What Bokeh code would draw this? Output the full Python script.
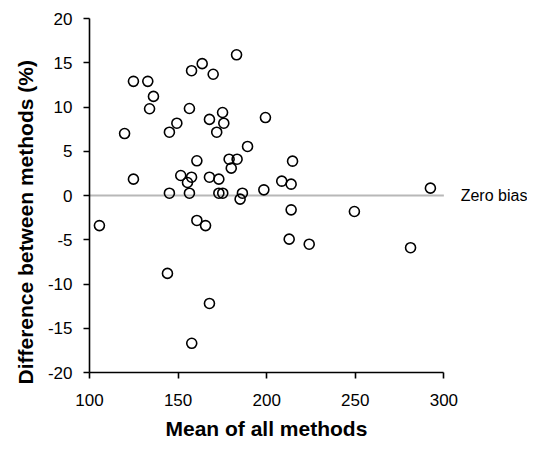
from bokeh.plotting import figure
from bokeh.models import Range1d, FixedTicker, Label, ColumnDataSource, Title
from bokeh.embed import file_html
from bokeh.resources import INLINE

# Data
mean_all = [105.6, 119.8, 124.8, 124.8, 132.9, 133.9, 136.1, 145.1, 145.1, 144.0,
            149.3, 151.5, 155.3, 157.6, 156.4, 156.4, 157.6, 157.7, 160.6, 160.6,
            163.6, 165.5, 167.7, 167.7, 167.7, 169.8, 171.8, 173.0, 173.0, 175.2,
            175.1, 175.8, 178.8, 180.0, 183.3, 183.0, 185.0, 186.3, 189.2, 199.3,
            198.4, 208.5, 212.7, 213.8, 214.6, 213.8, 224.0, 249.5, 281.2, 292.4]
diff_pct = [-3.4, 7.0, 12.9, 1.85, 12.9, 9.8, 11.2, 0.26, 7.15, -8.8,
            8.17, 2.26, 1.47, 2.07, 0.26, 9.83, 14.1, -16.7, 3.92, -2.82,
            14.9, -3.4, 2.07, 8.6, -12.2, 13.7, 7.15, 1.85, 0.26, 0.26,
            9.38, 8.17, 4.1, 3.09, 4.1, 15.9, -0.41, 0.26, 5.54, 8.81,
            0.64, 1.62, -4.93, 1.28, 3.88, -1.62, -5.5, -1.81, -5.9, 0.83]

x_ticks = [100, 150, 200, 250, 300]
x_tick_labels = ["100", "150", "200", "250", "300"]
y_ticks = [-20, -15, -10, -5, 0, 5, 10, 15, 20]
y_tick_labels = ["-20", "-15", "-10", "-5", "0", "5", "10", "15", "20"]
zero_bias = 0
zero_label = "Zero bias"
x_title = "Mean of all methods"
y_title = "Difference between methods (%)"

FONT = "Liberation Sans"

p = figure(width=527, height=450, output_backend="svg", toolbar_location=None,
           x_range=Range1d(100, 347.2), y_range=Range1d(-20, 20),
           min_border_left=89, min_border_right=0, min_border_top=18, min_border_bottom=78)
p.outline_line_color = None
p.xgrid.visible = False
p.ygrid.visible = False
p.background_fill_color = "white"

# zero-bias line
p.segment(x0=[x_ticks[0]], y0=[zero_bias], x1=[x_ticks[-1]], y1=[zero_bias],
          line_color="#b8b8b8", line_width=2)

src = ColumnDataSource(dict(x=mean_all, y=diff_pct))
p.scatter("x", "y", source=src, marker="circle", size=10, fill_color=None,
          line_color="black", line_width=1.6)

p.add_layout(Label(x=309.5, y=zero_bias, text=zero_label, text_baseline="middle",
                   text_font=FONT, text_font_size="16px", text_color="black"))

for ax in (p.xaxis[0], p.yaxis[0]):
    ax.axis_line_color = "black"
    ax.axis_line_width = 1.6
    ax.major_tick_line_color = "black"
    ax.major_tick_line_width = 1.6
    ax.major_tick_in = 0
    ax.major_tick_out = 6
    ax.minor_tick_line_color = None
    ax.major_label_text_font = FONT
    ax.major_label_text_font_size = "17px"
    ax.major_label_text_color = "black"

xa = p.xaxis[0]
xa.ticker = FixedTicker(ticks=x_ticks)
xa.major_label_overrides = {t: l for t, l in zip(x_ticks, x_tick_labels)}
xa.bounds = (x_ticks[0], x_ticks[-1])
xa.major_label_standoff = 15

ya = p.yaxis[0]
ya.ticker = FixedTicker(ticks=y_ticks)
ya.major_label_overrides = {t: l for t, l in zip(y_ticks, y_tick_labels)}
ya.major_label_standoff = 11

# axis titles as side titles, centred on the 100-300 axis span like the reference
p.add_layout(Title(text=x_title, align="left", offset=76, standoff=12,
                   text_font=FONT, text_font_style="bold", text_font_size="21px",
                   text_color="black"), "below")
p.add_layout(Title(text=y_title, align="left", offset=-12, standoff=16,
                   text_font=FONT, text_font_style="bold", text_font_size="21px",
                   text_color="black"), "left")

open("out.html", "w").write(file_html(p, INLINE))
